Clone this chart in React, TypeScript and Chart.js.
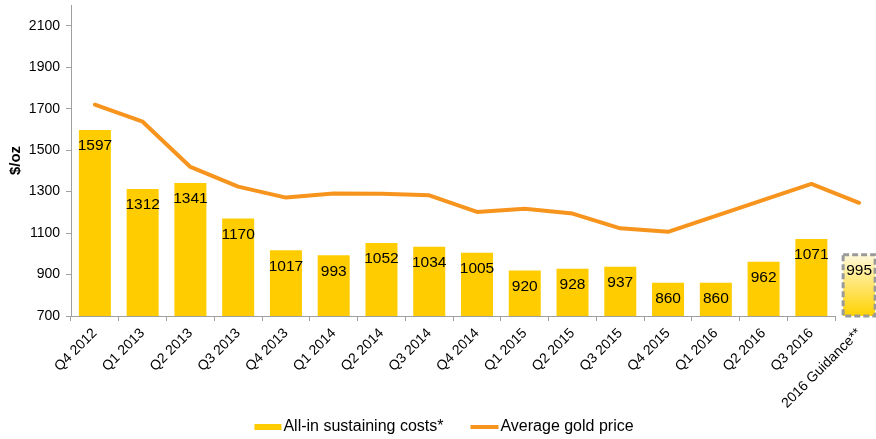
import { useEffect, useRef } from "react";
import { Chart, registerables } from "chart.js";

Chart.register(...registerables);

const categories = [
  "Q4 2012", "Q1 2013", "Q2 2013", "Q3 2013", "Q4 2013", "Q1 2014", "Q2 2014", "Q3 2014",
  "Q4 2014", "Q1 2015", "Q2 2015", "Q3 2015", "Q4 2015", "Q1 2016", "Q2 2016", "Q3 2016",
  "2016 Guidance**",
];
const aiscValues = [1597, 1312, 1341, 1170, 1017, 993, 1052, 1034, 1005, 920, 928, 937, 860, 860, 962, 1071, 995];
const goldValues = [1719, 1637, 1419, 1324, 1271, 1291, 1290, 1282, 1202, 1217, 1194, 1123, 1106, 1183, 1260, 1337, 1246];
const yTickValues = [700, 900, 1100, 1300, 1500, 1700, 1900, 2100];
const seriesNames = ["All-in sustaining costs*", "Average gold price"];
const yTitle = "$/oz";
const guidanceIndex = 16;
const Y_MIN = 700;
const Y_MAX = 2200;

const FONT = '"Liberation Sans", Arial, Helvetica, sans-serif';
const YELLOW = "#FFCC00";
const ORANGE = "#F7941E";
const GREY = "#A0A0A0";

function makeLegendImage(kind: "rect" | "line") {
  const c = document.createElement("canvas");
  c.width = 57;
  c.height = kind === "rect" ? 6 : 4;
  const g = c.getContext("2d")!;
  if (kind === "rect") {
    g.fillStyle = YELLOW;
    g.fillRect(29, 0, 27, 6);
  } else {
    g.fillStyle = ORANGE;
    g.fillRect(28, 0, 28, 4);
  }
  return c;
}

const overlayPlugin = {
  id: "overlay",
  beforeDatasetsDraw(chart: any) {
    const { ctx, chartArea } = chart;
    const xs = chart.scales.x;
    const end = (xs.getPixelForValue(guidanceIndex - 1) + xs.getPixelForValue(guidanceIndex)) / 2;
    const y = Math.round(chartArea.bottom) + 0.5;
    ctx.save();
    ctx.strokeStyle = GREY;
    ctx.lineWidth = 1;
    ctx.beginPath();
    ctx.moveTo(chartArea.left, y);
    ctx.lineTo(end, y);
    ctx.stroke();
    ctx.restore();
  },
  afterDatasetsDraw(chart: any) {
    const { ctx } = chart;
    const meta = chart.getDatasetMeta(0);
    const ys = chart.scales.y;
    ctx.save();
    const el = meta.data[guidanceIndex];
    if (el) {
      const top = el.y;
      const bottom = ys.getPixelForValue(Y_MIN);
      const half = el.width / 2;
      ctx.setLineDash([6, 3]);
      ctx.lineWidth = 3;
      ctx.strokeStyle = "#9A9A9A";
      ctx.strokeRect(el.x - half, top, el.width, bottom - top);
      ctx.setLineDash([]);
    }
    ctx.font = `15.5px ${FONT}`;
    ctx.fillStyle = "#000";
    ctx.textAlign = "center";
    ctx.textBaseline = "middle";
    meta.data.forEach((b: any, i: number) => {
      ctx.fillText(String(aiscValues[i]), b.x, b.y + 16);
    });
    ctx.restore();
  },
};

export default function App() {
  const ref = useRef<HTMLCanvasElement>(null);
  useEffect(() => {
    const canvas = ref.current!;
    const rectImg = makeLegendImage("rect");
    const lineImg = makeLegendImage("line");
    const chart = new Chart(canvas, {
      type: "bar",
      data: {
        labels: categories,
        datasets: [
          {
            type: "bar",
            label: seriesNames[0],
            data: aiscValues,
            backgroundColor: (c: any) => {
              if (c.dataIndex !== guidanceIndex) return YELLOW;
              const ch = c.chart;
              if (!ch.chartArea || !ch.scales.y) return YELLOW;
              const ys = ch.scales.y;
              const top = ys.getPixelForValue(aiscValues[guidanceIndex]);
              const bottom = ys.getPixelForValue(Y_MIN);
              const g = ch.ctx.createLinearGradient(0, top, 0, bottom);
              g.addColorStop(0, "#FFF8DA");
              g.addColorStop(1, "#FFD200");
              return g;
            },
            borderWidth: 0,
            barPercentage: 0.67,
            categoryPercentage: 1,
          },
          {
            type: "line",
            label: seriesNames[1],
            data: goldValues,
            borderColor: ORANGE,
            backgroundColor: ORANGE,
            borderWidth: 4,
            pointRadius: 0,
            tension: 0,
            fill: false,
            borderJoinStyle: "round",
            borderCapStyle: "round",
          },
        ],
      } as any,
      options: {
        animation: false,
        responsive: true,
        maintainAspectRatio: false,
        devicePixelRatio: 1,
        layout: { padding: { left: -17, right: 7, top: 5, bottom: -6 } },
        plugins: {
          tooltip: { enabled: false },
          legend: {
            position: "bottom",
            labels: {
              usePointStyle: true,
              pointStyleWidth: 43,
              boxHeight: 6,
              padding: 6,
              color: "#000",
              font: { size: 16, family: FONT },
              generateLabels: () => [
                {
                  text: seriesNames[0],
                  pointStyle: rectImg,
                  fillStyle: YELLOW,
                  strokeStyle: YELLOW,
                  lineWidth: 0,
                  hidden: false,
                  datasetIndex: 0,
                  fontColor: "#000",
                },
                {
                  text: seriesNames[1],
                  pointStyle: lineImg,
                  fillStyle: ORANGE,
                  strokeStyle: ORANGE,
                  lineWidth: 0,
                  hidden: false,
                  datasetIndex: 1,
                  fontColor: "#000",
                },
              ],
            },
          },
        },
        scales: {
          x: {
            offset: true,
            border: { display: false },
            grid: {
              offset: true,
              display: true,
              drawOnChartArea: false,
              drawTicks: true,
              tickLength: 5,
              color: GREY,
            },
            ticks: {
              autoSkip: false,
              minRotation: 45,
              maxRotation: 45,
              padding: 4,
              color: "#000",
              font: { size: 14, family: FONT },
            },
            afterFit: (s: any) => {
              s.height = 97;
            },
          },
          y: {
            min: Y_MIN,
            max: Y_MAX,
            border: { display: true, color: GREY },
            grid: {
              display: true,
              drawOnChartArea: false,
              drawTicks: true,
              tickLength: 5,
              color: GREY,
            },
            afterBuildTicks: (s: any) => {
              s.ticks = yTickValues.map((v) => ({ value: v }));
            },
            ticks: {
              padding: 6,
              color: "#000",
              font: { size: 14, family: FONT },
              callback: (v: any) => String(v),
            },
            title: {
              display: true,
              text: yTitle,
              color: "#000",
              font: { size: 15, weight: "bold", family: FONT },
              padding: { top: 24, bottom: 0 },
            },
            afterFit: (s: any) => {
              s.width = 88;
              s.paddingTop = 0;
              s.paddingBottom = 0;
            },
          },
        },
      } as any,
      plugins: [overlayPlugin],
    });
    return () => chart.destroy();
  }, []);
  return (
    <div
      style={{
        position: "absolute",
        left: 0,
        top: 0,
        width: 876,
        height: 439,
        overflow: "hidden",
        background: "#fff",
      }}
    >
      <div style={{ position: "relative", width: 890, height: 439 }}>
        <canvas ref={ref} />
      </div>
    </div>
  );
}
